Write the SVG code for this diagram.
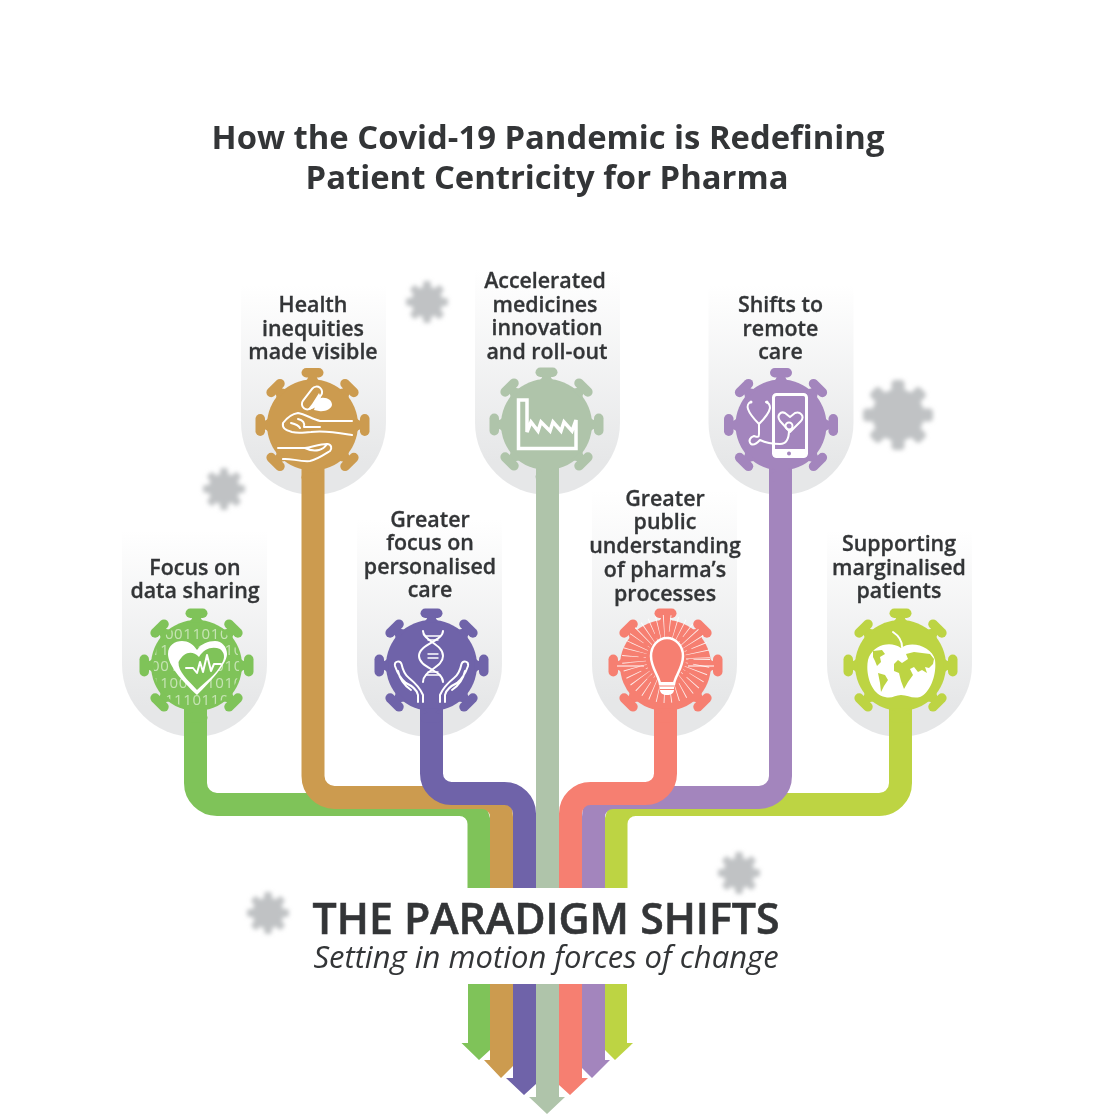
<svg xmlns="http://www.w3.org/2000/svg" width="1120" height="1120" viewBox="0 0 1120 1120">
<style>
text{font-family:"Open Sans","Noto Sans","Liberation Sans",sans-serif;fill:#333537;text-anchor:middle}
.t{font-size:32.800px;font-weight:700}
.l{font-size:21.400px;font-weight:600;stroke:#333537;stroke-width:.3px}
.h{font-size:42.800px;font-weight:600;stroke:#333537;stroke-width:.6px}
.s{font-size:31px;font-style:italic;font-weight:400}
.b{font-size:15px;font-weight:400;fill:#c6e4b4;letter-spacing:.6px}
.c path{fill:none;stroke-width:23}
.i{fill:none;stroke:#fff;stroke-width:2;stroke-linecap:round;stroke-linejoin:round}
.f{fill:#fff;stroke:none}
.p{fill:url(#g)}
</style>
<defs>
<linearGradient id="g" x1="0" y1="0" x2="0" y2="1"><stop offset="0" stop-color="#fff"/><stop offset=".85" stop-color="#e6e7e8"/></linearGradient>
<filter id="bl" x="-20%" y="-20%" width="140%" height="140%"><feGaussianBlur stdDeviation="1.9"/></filter>
<g id="sp"><path d="M-9 -43Q-4 -45 -4 -50H4Q4 -45 9 -43Z"/><rect x="-11" y="-57" width="22" height="9.500" rx="4.750"/></g>
<g id="v"><circle r="45.500"/><use href="#sp"/><use href="#sp" transform="rotate(45)"/><use href="#sp" transform="rotate(90)"/><use href="#sp" transform="rotate(135)"/><use href="#sp" transform="rotate(180)"/><use href="#sp" transform="rotate(225)"/><use href="#sp" transform="rotate(270)"/><use href="#sp" transform="rotate(315)"/></g>
<g id="sd"><rect x="-6.500" y="-35" width="13" height="14" rx="4"/></g>
<g id="d"><circle r="26"/><use href="#sd"/><use href="#sd" transform="rotate(45)"/><use href="#sd" transform="rotate(90)"/><use href="#sd" transform="rotate(135)"/><use href="#sd" transform="rotate(180)"/><use href="#sd" transform="rotate(225)"/><use href="#sd" transform="rotate(270)"/><use href="#sd" transform="rotate(315)"/></g>
<clipPath id="cb"><circle cx="196.500" cy="665.500" r="43"/></clipPath>
<path id="hand" d="M418 702V695C417 689 412 686 406 683C400 678 397 672 395 666C394 661 400 660 401.500 664C403 671 405 675 409 678M398 671C400 680 405 686 411 690M409 678C414 682 420 688 423 695V702"/>
</defs>

<g id="decor" fill="#c0c2c4" filter="url(#bl)">
<use href="#d" transform="translate(427 302) scale(.6)"/>
<use href="#d" transform="translate(224 489) scale(.6)"/>
<use href="#d" transform="translate(898 415)"/>
<use href="#d" transform="translate(739 873) scale(.6)"/>
<use href="#d" transform="translate(268 913) scale(.6)"/>
</g>

<g id="title">
<text class="t" x="548" y="149">How the Covid-19 Pandemic is Redefining</text>
<text class="t" x="547" y="189">Patient Centricity for Pharma</text>
</g>

<g id="panels">
<path class="p" d="M122 530H267V664.500A72.500 72.500 0 0 1 122 664.500Z"/>
<path class="p" d="M241 285H386V422.500A72.500 72.500 0 0 1 241 422.500Z"/>
<path class="p" d="M357 520H502V664.500A72.500 72.500 0 0 1 357 664.500Z"/>
<path class="p" d="M475 270H620V422.500A72.500 72.500 0 0 1 475 422.500Z"/>
<path class="p" d="M592 490H737V664.500A72.500 72.500 0 0 1 592 664.500Z"/>
<path class="p" d="M708.500 285H853.500V422.500A72.500 72.500 0 0 1 708.500 422.500Z"/>
<path class="p" d="M827 530H972V664.500A72.500 72.500 0 0 1 827 664.500Z"/>
</g>

<g id="connectors" class="c">
<path stroke="#7fc359" d="M195.500 700V783A21.500 21.500 0 0 0 217 804.500H459.500A19.500 19.500 0 0 1 479 824V888"/>
<path stroke="#cc9b4f" d="M313 460V776A21.500 21.500 0 0 0 334.500 797.500H482A19.500 19.500 0 0 1 501.500 817V888"/>
<path stroke="#6f63a9" d="M431.500 700V773.500A20 20 0 0 0 451.500 793.500H504.500A20 20 0 0 1 524.500 813.500V888"/>
<path stroke="#bdd443" d="M900.500 700V783A21.500 21.500 0 0 1 879 804.500H635.500A19.500 19.500 0 0 0 616 824V888"/>
<path stroke="#a385bd" d="M780.500 460V776A21.500 21.500 0 0 1 759 797.500H613A19.500 19.500 0 0 0 593.500 817V888"/>
<path stroke="#f67f71" d="M665.500 700V773.500A20 20 0 0 1 645.500 793.500H590.500A20 20 0 0 0 570.500 813.500V888"/>
<path stroke="#afc4aa" d="M547.500 460V888"/>
</g>

<g id="arrows">
<path fill="#7fc359" d="M468 984H490V1050L479 1060L461.500 1043H468Z"/>
<path fill="#bdd443" d="M605 984H627V1043H633L615 1060L605 1050Z"/>
<path fill="#cc9b4f" d="M490 984H513V1066L501 1078L484 1060H490Z"/>
<path fill="#a385bd" d="M582 984H605V1060H610L592 1078L582 1068Z"/>
<path fill="#6f63a9" d="M513 984H536V1084L524 1095L506 1078H513Z"/>
<path fill="#f67f71" d="M559 984H582V1078H588L570 1095L559 1085Z"/>
<path fill="#afc4aa" d="M536 984H559V1097H565L547 1114L529 1097H536Z"/>
</g>

<g id="paradigm">
<text class="h" x="546" y="934">THE PARADIGM SHIFTS</text>
<text class="s" x="546" y="968">Setting in motion forces of change</text>
</g>

<g id="node-data-sharing">
<use href="#v" fill="#7fc359" transform="translate(196.500 665.500)"/>
<g clip-path="url(#cb)">
<text class="b" x="197" y="639">0011010</text>
<text class="b" x="197" y="655">1111110110</text>
<text class="b" x="197" y="671">0010010010</text>
<text class="b" x="197" y="688">1100011010</text>
<text class="b" x="197" y="705">1110110</text>
</g>
<path class="f" d="M197 695C181 680 168 665 168 654C168 645 175 641 182 641C188 641 193 644 197 650C201 644 208 641 215 641C222 641 227 647 227 654C227 664 210 682 197 695Z"/>
<path fill="#7fc359" d="M197 690C188 680 178 672 178.500 662C184 652 192 650 199 657C204 648 213 646 220 649C225 653 225 658 222 663C216 675 205 682 197 690Z"/>
<path class="i" d="M186 668H193L197 673L200 662L203 672L207 655L211 671L214 664H221"/>
<text class="l" x="195" y="574.500">Focus on</text>
<text class="l" x="195" y="598">data sharing</text>
</g>

<g id="node-health-inequities">
<use href="#v" fill="#cc9b4f" transform="translate(312.500 425)"/>
<rect class="i" x="-5.500" y="-13" width="11" height="26" rx="5.500" transform="translate(312 398) rotate(38)"/>
<path class="f" d="M312 404L319 393C321 397 322 400 319 404C316 408 311 410 308 409Z"/>
<path class="f" d="M316 403L321 398C327 397 332 400 332 405C331 409 325 412 319 411L314 410Z"/>
<path class="i" d="M352 421H320C312 419 305 414 298 413C292 414 286 419 283 423C282 428 285 430 292 432C300 434 305 432 311 432C325 430 340 433 352 435"/>
<path class="i" d="M298 419C303 420 305 423 304 427M304 427H320M291 423C295 424 299 426 300 428"/>
<path class="i" d="M278 448H305C312 447 320 444 327 444C332 444 332 449 330 451C322 456 316 460 310 461C300 462 290 458 283 459M305 448C309 450 315 451 319 450C323 449 325 447 327 444"/>
<text class="l" x="313" y="312">Health</text>
<text class="l" x="313" y="335.500">inequities</text>
<text class="l" x="313" y="359">made visible</text>
</g>

<g id="node-personalised-care">
<use href="#v" fill="#6f63a9" transform="translate(431.500 665.500)"/>
<path class="i" d="M423 631C423 641 443 644 443 656C443 668 423 670 423 682"/>
<path class="i" d="M443 631C443 641 419 644 419 656C419 668 443 670 443 682"/>
<path class="i" d="M426 636H440M428 640H438M428 654H438M428 658H438M426 675H440M428 672H438" style="stroke-width:1.400"/>
<use href="#hand" class="i"/>
<use href="#hand" class="i" transform="translate(863 0) scale(-1 1)"/>
<text class="l" x="430" y="526.500">Greater</text>
<text class="l" x="430" y="550">focus on</text>
<text class="l" x="430" y="573.500">personalised</text>
<text class="l" x="430" y="597">care</text>
</g>

<g id="node-medicines-innovation">
<use href="#v" fill="#afc4aa" transform="translate(546.500 424.500)"/>
<path fill="none" stroke="#fff" stroke-width="3.500" stroke-linejoin="miter" d="M518.500 400H527V432L531 422L538 431L541 422L550 431L553 422L561 431L564 422L572 431L576 420V448.500H518.500Z"/>
<text class="l" x="545" y="288">Accelerated</text>
<text class="l" x="545" y="312">medicines</text>
<text class="l" x="547" y="335">innovation</text>
<text class="l" x="547" y="359">and roll-out</text>
</g>

<g id="node-public-understanding">
<use href="#v" fill="#f67f71" transform="translate(665.500 665.500)"/>
<circle cx="666" cy="659" r="32" fill="none" stroke="#fff" stroke-width="24" stroke-dasharray=".7 5" opacity=".85"/>
<circle cx="666" cy="659" r="25" fill="none" stroke="#f67f71" stroke-width="5" stroke-dasharray="6 7"/>
<line x1="617" y1="666" x2="644" y2="666" stroke="#fff" stroke-width="1"/>
<line x1="688" y1="666" x2="714" y2="666" stroke="#fff" stroke-width="1"/>
<path fill="#f67f71" stroke="#fff" stroke-width="2.500" d="M660 684C659 676 651 668 651 656C651 646 658 638 667 638C676 638 683 646 683 656C683 668 675 676 674 684Z"/>
<path class="f" d="M660 682H674V690C674 693 671 695 667 695C663 695 660 693 660 690Z"/>
<path d="M660 686H674M660 689.500H674" stroke="#f67f71" stroke-width="1"/>
<text class="l" x="665" y="505.500">Greater</text>
<text class="l" x="665" y="529">public</text>
<text class="l" x="665" y="553">understanding</text>
<text class="l" x="665" y="577">of pharma’s</text>
<text class="l" x="665" y="600.500">processes</text>
</g>

<g id="node-remote-care">
<use href="#v" fill="#a385bd" transform="translate(781 425)"/>
<rect x="773.500" y="394.500" width="33" height="62" rx="3" fill="none" stroke="#fff" stroke-width="3"/>
<rect x="773" y="449" width="34" height="8" rx="2" class="f"/>
<circle cx="789" cy="453.500" r="2" fill="#a385bd"/>
<path class="i" d="M790 432L780 421C776 415 781 411 785 413L790 417L795 413C800 411 805 416 801 421Z"/>
<circle cx="789" cy="426" r="3.500" class="i"/>
<path class="i" d="M751 402C748 403 747 406 748 409C750 415 755 420 759 424C763 420 769 414 770 408C770 405 769 403 766 402"/>
<path class="i" d="M759 424V434C759 438 757 437 754 436C750 437 748 441 751 444C755 446 758 442 760 440C766 443 772 444 780 444C786 444 789 440 789 430"/>
<circle cx="751" cy="402" r="1.500" class="f"/>
<circle cx="767" cy="402" r="1.500" class="f"/>
<text class="l" x="780.500" y="312">Shifts to</text>
<text class="l" x="780.500" y="335.500">remote</text>
<text class="l" x="780.500" y="359">care</text>
</g>

<g id="node-marginalised-patients">
<use href="#v" fill="#bdd443" transform="translate(900.500 665.500)"/>
<path class="f" d="M901 648C890 640 872 645 868 660C865 675 872 695 885 697C892 699 895 695 901 695C908 695 912 699 920 697C930 693 937 675 935 660C932 647 912 640 901 648Z"/>
<path class="i" d="M893 632C899 636 902 642 902 647"/>
<path fill="#bdd443" d="M873 651L882 650L885 654L880 657L881 662L877 666L875 661L873 657ZM878 673L885 675L888 680L884 686L881 692L880 683ZM894 664L898 660L902 663L908 659L906 654L914 652L922 653L930 654L934 659L933 664L929 668L925 667L927 673L922 670L918 672L914 667L910 669L913 675L908 682L904 689L901 681L899 673L894 671Z"/>
<text class="l" x="899" y="551">Supporting</text>
<text class="l" x="899" y="574.500">marginalised</text>
<text class="l" x="899" y="598">patients</text>
</g>
</svg>
